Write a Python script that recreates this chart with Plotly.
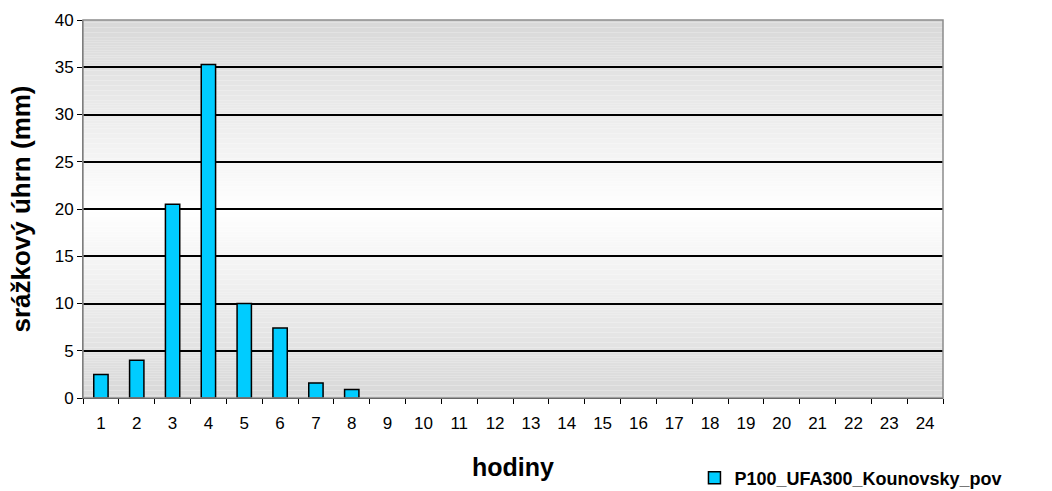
import plotly.graph_objects as go

# Hourly precipitation totals (mm) for hours 1..24
hours = [str(h) for h in range(1, 25)]
rain_mm = [2.5, 4.0, 20.5, 35.3, 10.0, 7.4, 1.6, 0.9] + [0.0] * 16
series_name = "P100_UFA300_Kounovsky_pov"
y_ticks = [0, 5, 10, 15, 20, 25, 30, 35, 40]

FONT = "Liberation Sans, Arial, sans-serif"

fig = go.Figure()
fig.add_trace(go.Bar(
    x=hours, y=rain_mm, name=series_name,
    marker=dict(color="#00CCFF",
                line=dict(color="#000000",
                          width=[1.5 if v > 0 else 0 for v in rain_mm])),
    showlegend=True,
))

# Vertical grey-white-grey gradient behind the plot area, built from thin bands
shapes = []
n = 150
top, mid = 216, 255
for i in range(n):
    t = (i + 0.5) / n
    d = abs(t - 0.5) * 2
    v = int(round(mid - (mid - top) * d))
    col = f"rgb({v},{v},{v})"
    shapes.append(dict(type="rect", xref="x domain", yref="y domain",
                       x0=0, x1=1, y0=i / n, y1=(i + 1) / n,
                       fillcolor=col, line=dict(width=0), layer="below"))
# Plot area frame
shapes.append(dict(type="rect", xref="x domain", yref="y domain",
                   x0=0, x1=1, y0=0, y1=1,
                   line=dict(color="#8c8c8c", width=1.5), layer="above"))

fig.update_layout(
    width=1052, height=491,
    margin=dict(l=83, r=109, t=20, b=93, autoexpand=False),
    paper_bgcolor="white", plot_bgcolor="rgba(0,0,0,0)",
    font=dict(family=FONT, color="#000000", size=17),
    bargap=0.6,
    shapes=shapes,
    showlegend=True,
    legend=dict(x=0.711, y=-0.2116, xanchor="left", yanchor="middle",
                font=dict(size=18, family=FONT, weight="bold"),
                bgcolor="rgba(0,0,0,0)", itemwidth=30),
    xaxis=dict(
        type="category", tickson="boundaries", ticks="outside", ticklen=5,
        tickcolor="#000000", showline=True, linecolor="#000000", linewidth=1,
        showgrid=False, tickfont=dict(size=17), ticklabelstandoff=10,
        title=dict(text="<b>hodiny</b>", font=dict(size=25), standoff=26),
    ),
    yaxis=dict(
        range=[0, 40], tickvals=y_ticks, ticks="outside", ticklen=5,
        tickcolor="#000000", showline=True, linecolor="#555555", linewidth=1,
        showgrid=True, gridcolor="#000000", gridwidth=1.5,
        zeroline=False, tickfont=dict(size=17),
        title=dict(text="<b>srážkový úhrn (mm)</b>", font=dict(size=26), standoff=16),
    ),
)

fig.write_html("out.html")
